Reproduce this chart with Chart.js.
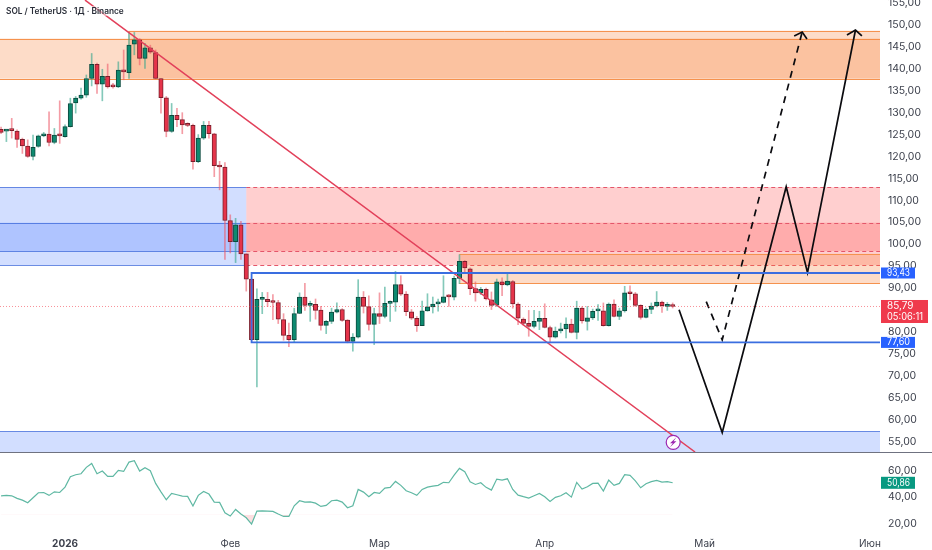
<!DOCTYPE html>
<html>
<head>
<meta charset="utf-8">
<title>SOL / TetherUS</title>
<script src="https://cdn.jsdelivr.net/npm/chart.js@4/dist/chart.umd.min.js"></script>
<style>
  body { margin: 0; background: #fff; }
  #wrap { position: relative; width: 932px; height: 550px; overflow: hidden; }
  canvas { position: absolute; left: 0; }
  #priceChart { top: 0; }
  #rsiChart { top: 453px; }
  #sep { position: absolute; left: 0; top: 452px; width: 932px; height: 1px; background: #6f7280; }
  #title { position: absolute; left: 6px; top: 6px; font: 600 8.3px Inter, sans-serif; color: #2a2e39; background: rgba(255,255,255,.5); }
</style>
</head>
<body>
<div id="wrap">
  <canvas id="priceChart" width="932" height="452"></canvas>
  <div id="sep"></div>
  <canvas id="rsiChart" width="932" height="97"></canvas>
  <div id="title">SOL / TetherUS · 1Д · Binance</div>
</div>
<script>
// daily candles, day 0 is 1 Jan 2026
const firstDay = -12;
const opens = [
  126.2,125.8,126.1,125.8,123.9,122.4,120.0,122.3,124.7,125.1,
  123.2,124.9,124.5,126.8,132.2,133.3,134.0,137.8,141.0,136.5,
  138.3,136.0,135.9,139.7,139.1,145.6,146.6,142.4,144.8,143.7,
  137.8,133.4,125.7,129.4,128.4,127.4,127.1,118.8,124.2,127.1,
  125.2,117.9,117.6,105.4,100.6,104.4,97.8,92.05,78.2,87.4,
  87.4,86.9,86.7,82.8,79.2,78.2,84.2,87.95,86.05,86.3,
  85.0,81.5,82.4,84.5,85.1,82.7,77.85,78.8,87.9,85.75,
  81.7,84.15,83.5,86.5,86.8,90.76,88.6,84.6,83.1,81.4,
  84.8,85.7,86.4,86.7,88.25,87.9,92.2,96.1,94.4,89.85,
  88.86,89.7,87.3,86.1,91.4,90.7,91.5,86.35,82.9,81.95,
  81.25,82.4,83.1,81.0,78.8,80.2,80.7,81.8,79.9,85.4,
  82.4,83.2,84.8,84.8,81.4,86.35,83.5,84.8,88.9,88.7,
  86.05,83.3,85.15,85.9,86.8,85.8,86.05
];
const highs = [
  126.7,126.2,128.7,126.1,124.2,123.8,124.9,124.9,125.5,130.2,
  126.4,132.7,127.2,133.3,133.7,135.6,138.6,143.5,141.3,139.9,
  141.1,136.7,141.6,144.3,148.3,148.3,146.9,145.8,145.4,144.3,
  137.8,133.7,132.1,131.0,130.0,127.7,127.4,125.0,128.0,128.0,
  125.3,118.9,118.6,106.7,105.9,105.2,97.8,92.05,89.8,89.0,
  89.0,88.5,87.2,84.15,82.0,85.4,88.9,91.1,87.0,87.5,
  85.8,82.6,85.4,86.6,85.3,82.8,79.6,91.9,89.2,88.25,
  85.4,88.9,90.2,87.1,93.8,92.8,89.2,85.1,83.5,87.0,
  88.7,87.95,87.5,92.8,88.5,92.7,97.6,96.3,94.6,91.4,
  90.15,90.0,89.1,92.05,92.3,93.4,91.75,86.6,83.2,84.9,
  84.9,84.7,86.4,81.3,81.1,82.0,83.2,82.9,87.0,85.7,
  85.8,85.2,86.2,86.6,86.6,87.3,85.4,90.4,90.5,89.0,
  86.2,85.4,86.6,89.2,87.0,86.7,86.6
];
const lows = [
  125.2,123.4,124.2,122.1,120.7,119.8,119.2,122.1,124.5,122.4,
  122.9,123.0,124.4,126.7,129.9,133.1,133.5,136.1,134.4,132.7,
  135.6,135.6,135.7,137.5,137.8,143.2,140.9,140.1,143.5,137.7,
  129.9,124.5,125.5,126.8,125.2,126.8,117.1,118.6,123.9,124.2,
  115.4,112.4,96.5,98.0,95.8,96.5,89.3,78.1,67.45,84.15,
  85.8,82.8,81.9,78.1,76.6,77.6,84.15,84.9,82.4,82.9,
  80.4,79.6,81.9,84.3,82.4,77.5,75.6,78.6,84.3,80.4,
  77.1,81.9,83.2,82.4,84.7,88.3,83.7,82.8,80.1,81.4,
  84.7,84.3,84.7,86.6,85.8,87.3,91.0,93.4,88.5,87.0,
  88.5,87.3,85.1,85.8,88.25,90.5,85.4,81.65,81.5,79.0,
  80.9,80.5,80.9,77.5,78.6,79.75,78.6,79.75,78.4,82.0,
  80.4,82.8,82.6,81.3,81.3,83.4,82.8,84.5,87.3,85.8,
  82.9,83.2,84.15,85.7,84.45,84.9,85.45
];
const closes = [
  125.5,126.0,125.9,123.9,122.4,120.0,122.1,124.7,125.2,123.2,
  124.9,124.7,126.8,132.1,133.3,134.0,137.8,141.0,136.5,138.3,
  135.9,135.9,139.7,139.3,145.4,146.6,142.4,144.8,143.8,137.8,
  133.4,125.7,129.4,128.4,127.2,127.1,118.8,124.2,127.1,125.2,
  117.9,117.6,105.4,100.6,104.4,97.8,92.05,78.2,87.4,87.6,
  86.9,86.7,82.9,79.2,78.2,84.2,87.95,86.05,86.3,84.9,
  81.5,82.4,84.5,85.1,82.6,77.85,78.8,87.95,85.8,81.7,
  84.15,83.5,86.5,86.9,90.76,88.6,84.6,83.1,81.4,84.8,
  85.7,86.35,86.7,88.0,88.0,92.2,96.1,94.6,89.85,88.86,
  89.7,87.5,86.05,91.4,90.7,91.6,86.4,83.1,81.95,81.25,
  82.4,83.1,81.0,78.8,80.2,80.7,81.8,79.9,85.4,82.5,
  83.2,84.7,85.0,81.4,86.35,83.5,84.8,88.9,88.7,86.05,
  83.3,85.15,85.9,86.8,86.0,86.0,85.79
];
const rsi = [
  41.0,41.3,41.0,39.0,37.7,35.7,39.5,43.3,43.5,41.3,
  44.0,43.5,47.6,55.5,57.0,57.75,62.6,65.6,57.75,59.8,
  55.7,55.7,60.3,59.5,66.6,67.6,59.8,62.3,60.0,50.4,
  44.0,38.0,42.8,41.8,40.8,40.5,33.2,41.3,44.3,42.3,
  36.2,36.0,28.1,25.6,30.6,27.1,24.3,19.5,29.4,29.6,
  29.4,29.1,27.1,25.3,25.3,33.4,37.2,36.2,36.4,35.4,
  32.9,33.7,37.2,37.7,36.2,31.9,33.4,45.8,43.8,40.3,
  43.5,42.8,46.8,47.4,51.9,48.9,44.8,43.3,41.3,45.8,
  47.6,48.4,48.9,51.2,50.9,56.7,61.8,59.3,51.7,49.6,
  50.9,47.4,45.3,53.7,52.9,53.9,45.8,41.5,40.3,39.2,
  41.0,42.8,40.3,36.7,39.8,41.0,43.3,40.0,51.2,46.1,
  47.8,50.4,50.6,44.6,52.9,48.9,50.4,57.0,56.5,52.4,
  47.1,50.1,51.7,52.7,51.4,51.7,50.9
];

const monthDays = [0, 31, 59, 90, 120, 151];
const monthLabels = ["2026", "Фев", "Мар", "Апр", "Май", "Июн"];

const lastPrice = 85.79;
const lastRsi = 50.86;
const countdown = "05:06:11";
const rangeTop = 93.43;
const rangeBottom = 77.60;
const rsiShade = 26.5;

// zones: [from day, to day, top price, bottom price]
const lastX = 152.9;
const orangeZones = [[-12.2, lastX, 146.9, 137.75], [11.9, lastX, 148.7, 137.75], [74, lastX, 97.8, 91.15]];
const blueZones = [[-12.2, 34.0, 113.0, 95.2], [-12.2, 34.0, 104.9, 98.4], [-12.2, lastX, 57.3, 52]];
const redZones = [[34.0, lastX, 113.0, 95.2], [34.0, lastX, 104.9, 98.4]];

// hand drawn lines: days and prices
const trendDays = [3.75, 118.2];
const trendPrices = [155.68, 52.6];
const pathDays = [115.2, 123.3, 135.3, 139.3, 148.3];
const pathPrices = [85.06, 57.05, 113.1, 93.5, 148.85];
const headDays = [146.7, 148.3, 149.5];
const headPrices = [147.7, 148.85, 147.5];
const dashDays = [120.3, 123.3, 138.3];
const dashPrices = [86.9, 78.2, 148.4];
const dashHeadDays = [136.8, 138.3, 139.2];
const dashHeadPrices = [147.5, 148.4, 146.8];

const boltDay = 114.1;
const boltPrice = 54.8;

const days = opens.map((o, i) => firstDay + i);
const red = opens.map((o, i) => closes[i] < o);
const font = "Inter, sans-serif";
const comma = (v) => v.toFixed(2).replace(".", ",");

function pts(xs, ys) {
  return xs.map((x, i) => ({ x: x, y: ys[i] }));
}

function lineSet(data, color, width, dash) {
  return {
    type: "line", data: data, borderColor: color, borderWidth: width, borderDash: dash || [],
    pointRadius: 0, tension: 0, fill: false, order: 0,
  };
}

// tick labels must not pull the plot area away from the canvas edges
function noPadding(s) {
  s.paddingTop = 0;
  s.paddingBottom = 0;
  s.paddingLeft = 0;
  s.paddingRight = 0;
}

function rightAxis(min, max, step) {
  return {
    position: "right", min: min, max: max, border: { display: false }, grid: { display: false },
    afterFit: (s) => { s.width = 52; noPadding(s); },
    ticks: {
      stepSize: step, includeBounds: false, padding: 0, color: "#3d414d",
      font: { family: font, size: 10.5 }, callback: (v) => comma(v),
    },
  };
}

function tag(ctx, area, y, color, w, h, lines) {
  ctx.fillStyle = color;
  ctx.fillRect(area.right + 1, y - h / 2, w, h);
  ctx.fillStyle = "#fff";
  ctx.font = "10px " + font;
  ctx.textAlign = "left";
  ctx.textBaseline = "middle";
  lines.forEach((t, i) => {
    ctx.fillText(t, area.right + 7, y - (lines.length - 1) * 5.5 + i * 11.5, w - 11);
  });
}

// zones sit behind the candles
const zonesPlugin = {
  id: "zones",
  beforeDatasetsDraw(chart) {
    const { ctx, chartArea, scales } = chart;
    function rects(list, fill, stroke, dash) {
      list.forEach((z) => {
        const x0 = scales.x.getPixelForValue(z[0]);
        const x1 = Math.min(scales.x.getPixelForValue(z[1]), chartArea.right);
        const y0 = scales.y.getPixelForValue(z[2]);
        const y1 = scales.y.getPixelForValue(z[3]);
        ctx.save();
        ctx.beginPath();
        ctx.rect(chartArea.left, chartArea.top, chartArea.width, chartArea.height);
        ctx.clip();
        ctx.fillStyle = fill;
        ctx.fillRect(x0, y0, x1 - x0, y1 - y0);
        ctx.strokeStyle = stroke;
        ctx.lineWidth = 1;
        ctx.setLineDash(dash);
        [y0, y1].forEach((y) => {
          ctx.beginPath();
          ctx.moveTo(x0, Math.round(y) + 0.5);
          ctx.lineTo(x1, Math.round(y) + 0.5);
          ctx.stroke();
        });
        ctx.restore();
      });
    }
    rects(redZones, "rgba(255,70,70,0.26)", "#e4566a", [4, 3]);
    rects(blueZones, "rgba(41,98,255,0.21)", "rgba(50,95,215,0.7)", []);
    rects(orangeZones, "rgba(247,125,50,0.27)", "#f5924e", []);
  },
  afterDraw(chart) {
    const { ctx, chartArea, scales } = chart;
    tag(ctx, chartArea, scales.y.getPixelForValue(rangeTop), "#2962ff", 34, 11, [comma(rangeTop)]);
    tag(ctx, chartArea, scales.y.getPixelForValue(rangeBottom), "#2962ff", 34, 11, [comma(rangeBottom)]);
    tag(ctx, chartArea, scales.y.getPixelForValue(lastPrice) + 5, "#ef3a4c", 47, 23, [comma(lastPrice), countdown]);
    // lightning mark
    const bx = scales.x.getPixelForValue(boltDay);
    const by = scales.y.getPixelForValue(boltPrice);
    ctx.save();
    ctx.beginPath();
    ctx.arc(bx, by, 7, 0, Math.PI * 2);
    ctx.fillStyle = "#fff";
    ctx.fill();
    ctx.strokeStyle = "#9c27b0";
    ctx.lineWidth = 1.2;
    ctx.stroke();
    ctx.fillStyle = "#9c27b0";
    ctx.beginPath();
    ctx.moveTo(bx + 3.2, by - 5);
    ctx.lineTo(bx - 3.2, by + 1);
    ctx.lineTo(bx - 0.4, by + 1);
    ctx.lineTo(bx - 3.2, by + 5);
    ctx.lineTo(bx + 3.2, by - 1);
    ctx.lineTo(bx + 0.4, by - 1);
    ctx.closePath();
    ctx.fill();
    ctx.restore();
  },
};

new Chart(document.getElementById("priceChart"), {
  type: "bar",
  data: {
    datasets: [
      lineSet(pts([-12.2, lastX], [lastPrice, lastPrice]), "rgba(242,54,69,0.55)", 1, [1, 2]),
      lineSet(pts([lastX, 35, 35, lastX], [rangeTop, rangeTop, rangeBottom, rangeBottom]), "#3a6ee0", 1.8),
      lineSet(pts(trendDays, trendPrices), "#e2405a", 1.5),
      lineSet(pts(pathDays, pathPrices), "#0b0b0f", 1.7),
      lineSet(pts(headDays, headPrices), "#0b0b0f", 1.7),
      lineSet(pts(dashDays, dashPrices), "#0b0b0f", 1.7, [7, 6]),
      lineSet(pts(dashHeadDays, dashHeadPrices), "#0b0b0f", 1.7),
      {
        // candle bodies
        data: days.map((d, i) => ({ x: d, y: [Math.min(opens[i], closes[i]), Math.max(opens[i], closes[i])] })),
        backgroundColor: red.map((r) => (r ? "#e5344a" : "#0d8a70")),
        borderColor: red.map((r) => (r ? "#7a1f2c" : "#0c4a3e")),
        borderWidth: 1, borderSkipped: false, barThickness: 4.4, minBarLength: 2, order: 1,
      },
      {
        // wicks
        data: days.map((d, i) => ({ x: d, y: [lows[i], highs[i]] })),
        backgroundColor: red.map((r) => (r ? "rgba(236,90,105,0.6)" : "rgba(50,165,140,0.6)")),
        borderWidth: 0, barThickness: 1, order: 2,
      },
    ],
  },
  options: {
    responsive: false,
    animation: false,
    layout: { padding: 0 },
    datasets: { bar: { grouped: false } },
    plugins: { legend: { display: false }, tooltip: { enabled: false } },
    scales: {
      x: { type: "linear", min: -12.2, max: lastX, offset: false, display: false },
      y: rightAxis(52.6, 155.7, 5),
    },
  },
  plugins: [zonesPlugin],
});

new Chart(document.getElementById("rsiChart"), {
  type: "line",
  data: {
    datasets: [
      {
        data: pts(days, rsi), borderColor: "#5fb8a3", borderWidth: 1.2, pointRadius: 0, tension: 0,
        fill: { target: { value: rsiShade }, above: "rgba(0,0,0,0)", below: "rgba(242,54,69,0.16)" },
      },
    ],
  },
  options: {
    responsive: false,
    animation: false,
    layout: { padding: 0 },
    plugins: { legend: { display: false }, tooltip: { enabled: false } },
    scales: {
      x: {
        type: "linear", min: -12.2, max: lastX,
        border: { display: false }, grid: { display: false },
        afterFit: (s) => { s.height = 20; noPadding(s); },
        afterBuildTicks: (s) => { s.ticks = monthDays.map((v) => ({ value: v })); },
        ticks: {
          autoSkip: false, maxRotation: 0, padding: 0, color: "#3d414d",
          font: (c) => ({ family: font, size: 10, weight: c.tick && c.tick.value === 0 ? "bold" : "normal" }),
          callback: (v) => monthLabels[monthDays.indexOf(v)],
        },
      },
      y: rightAxis(15, 73.5, 20),
    },
  },
  plugins: [{
    id: "rsiTag",
    afterDraw(chart) {
      tag(chart.ctx, chart.chartArea, chart.scales.y.getPixelForValue(lastRsi), "#089981", 34, 12, [comma(lastRsi)]);
    },
  }],
});
</script>
</body>
</html>
